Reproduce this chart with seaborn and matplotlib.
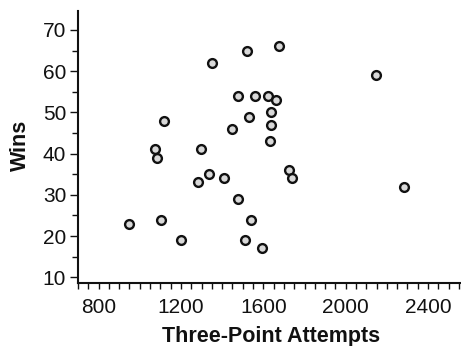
import matplotlib
matplotlib.use("Agg")
import matplotlib.pyplot as plt
from matplotlib.ticker import MultipleLocator
import seaborn as sns
import pandas as pd

# Team season totals: three-point attempts vs. wins
three_point_attempts = [949, 1075, 1082, 1101, 1119, 1198, 1283, 1296, 1338, 1353,
                        1409, 1448, 1477, 1479, 1511, 1522, 1529, 1542, 1558, 1592,
                        1624, 1630, 1639, 1639, 1663, 1676, 1726, 1740, 2147, 2284]
wins = [23, 41, 39, 24, 48, 19, 33, 41, 35, 62,
        34, 46, 29, 54, 19, 65, 49, 24, 54, 17,
        54, 43, 50, 47, 53, 66, 36, 34, 59, 32]

x_ticks = [800, 1200, 1600, 2000, 2400]
y_ticks = [10, 20, 30, 40, 50, 60, 70]

df = pd.DataFrame({"Three-Point Attempts": three_point_attempts, "Wins": wins})

sns.set_style("ticks")
plt.rcParams["font.family"] = ["Liberation Sans", "DejaVu Sans"]

fig = plt.figure(figsize=(4.61, 3.46), dpi=100)
ax = fig.add_axes([78 / 461, 63 / 346, (461 - 78) / 461, (283 - 11) / 346])

sns.scatterplot(data=df, x="Three-Point Attempts", y="Wins", ax=ax,
                s=40, color="#d9d9d9", edgecolor="#111111", linewidth=1.7,
                zorder=3)

ax.set_xlim(700, 2560)
ax.set_ylim(8.6, 74.6)
ax.set_xticks(x_ticks)
ax.set_yticks(y_ticks)
ax.xaxis.set_minor_locator(MultipleLocator(50))
ax.yaxis.set_minor_locator(MultipleLocator(5))

for side in ("top", "right"):
    ax.spines[side].set_visible(False)
for side in ("left", "bottom"):
    ax.spines[side].set_linewidth(1.5)
    ax.spines[side].set_color("#111111")

ax.tick_params(axis="both", which="both", direction="out", width=1,
               color="#111111", labelsize=15, labelcolor="#111111")
ax.tick_params(axis="x", which="both", length=4)
ax.tick_params(axis="x", which="major", pad=7)
ax.tick_params(axis="y", which="major", length=5.5, pad=3)
ax.tick_params(axis="y", which="minor", length=4.5)

ax.set_xlabel("Three-Point Attempts", fontsize=15.5, fontweight="bold",
              color="#111111")
ax.set_ylabel("Wins", fontsize=15.5, fontweight="bold", color="#111111")
ax.xaxis.label.set_va("baseline")
ax.xaxis.set_label_coords(0.504, (283 - 342) / 272)
ax.yaxis.set_label_coords((30.5 - 78) / 383, (283 - 145) / 272)

fig.savefig("out.png", dpi=100)
